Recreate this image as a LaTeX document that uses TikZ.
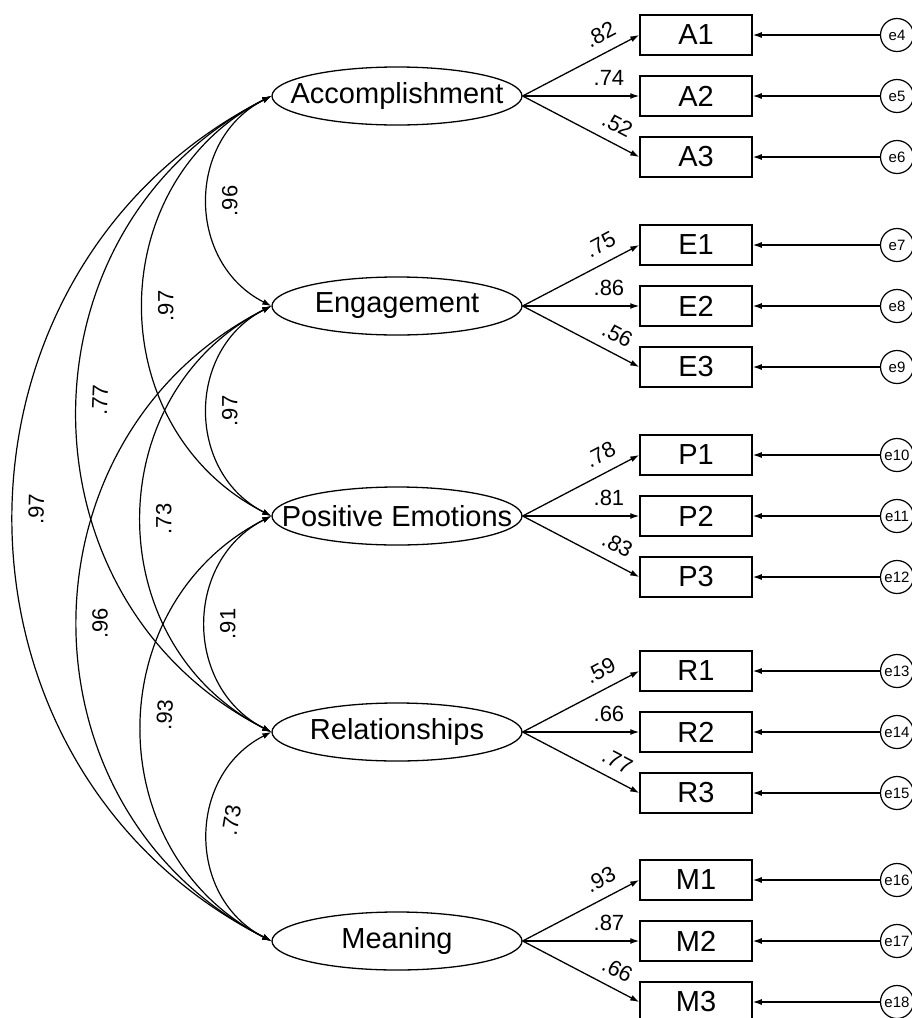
\documentclass[tikz,border=0pt]{standalone}
\usepackage{fontspec}
\setmainfont{Liberation Sans}
\usetikzlibrary{shapes.geometric, arrows.meta}
\NewDocumentCommand{\latname}{m}{%
\makebox[0pt]{#1}%
}

\begin{document}
\begin{tikzpicture}[x=1pt, y=-1pt, latent/.style={draw, ellipse, minimum width=250pt, minimum height=58pt, inner sep=0pt, line width=1.3pt, font=\fontsize{29}{34}\selectfont}, item/.style={rectangle, draw, minimum width=112pt, minimum height=40pt, line width=1.5pt, font=\fontsize{29}{32}\selectfont}, err/.style={draw, circle, minimum size=33pt, inner sep=0pt, line width=1.2pt, font=\fontsize{15}{17}\selectfont}, n/.style={-{Latex[length=9pt, width=6pt]}, line width=1.3pt}, cov/.style={{Latex[length=9pt, width=6pt]}-{Latex[length=9pt, width=6pt]}, line width=1.2pt, bend left=63, looseness=1.17, allow upside down}, lab/.style={font=\fontsize{22}{24}\selectfont, inner sep=2pt}]
        \useasboundingbox (0,0) rectangle (911,1018);
        % latent factors
        \node[latent] (Acc) at (397,96) {\latname{Accomplishment}};
        \node[latent] (Eng) at (397,306) {\latname{Engagement}};
        \node[latent] (Pos) at (397,516) {\latname{Positive Emotions}};
        \node[latent] (Rel) at (397,732) {\latname{Relationships}};
        \node[latent] (Mea) at (397,941) {\latname{Meaning}};
        % items
        \node[item] (A1) at (696,35) {A1};
        \node[item] (A2) at (696,96) {A2};
        \node[item] (A3) at (696,157) {A3};
        \node[item] (E1) at (696,245) {E1};
        \node[item] (E2) at (696,306) {E2};
        \node[item] (E3) at (696,367) {E3};
        \node[item] (P1) at (696,455) {P1};
        \node[item] (P2) at (696,516) {P2};
        \node[item] (P3) at (696,577) {P3};
        \node[item] (R1) at (696,671) {R1};
        \node[item] (R2) at (696,732) {R2};
        \node[item] (R3) at (696,793) {R3};
        \node[item] (M1) at (696,880) {M1};
        \node[item] (M2) at (696,941) {M2};
        \node[item] (M3) at (696,1002) {M3};
        % error terms
        \node[err] (e4) at (897,35) {e4};
        \node[err] (e5) at (897,96) {e5};
        \node[err] (e6) at (897,157) {e6};
        \node[err] (e7) at (897,245) {e7};
        \node[err] (e8) at (897,306) {e8};
        \node[err] (e9) at (897,367) {e9};
        \node[err] (e10) at (897,455) {e10};
        \node[err] (e11) at (897,516) {e11};
        \node[err] (e12) at (897,577) {e12};
        \node[err] (e13) at (897,671) {e13};
        \node[err] (e14) at (897,732) {e14};
        \node[err] (e15) at (897,793) {e15};
        \node[err] (e16) at (897,880) {e16};
        \node[err] (e17) at (897,941) {e17};
        \node[err] (e18) at (897,1002) {e18};
        % loadings
        \draw [n] (Acc.east) -- node[lab, pos=.74, sloped, above=8pt] {.82} (A1.west);
        \draw [n] (Acc.east) -- node[lab, pos=.74, sloped, above=8pt] {.74} (A2.west);
        \draw [n] (Acc.east) -- node[lab, pos=.74, sloped, above=8pt] {.52} (A3.west);
        \draw [n] (Eng.east) -- node[lab, pos=.74, sloped, above=8pt] {.75} (E1.west);
        \draw [n] (Eng.east) -- node[lab, pos=.74, sloped, above=8pt] {.86} (E2.west);
        \draw [n] (Eng.east) -- node[lab, pos=.74, sloped, above=8pt] {.56} (E3.west);
        \draw [n] (Pos.east) -- node[lab, pos=.74, sloped, above=8pt] {.78} (P1.west);
        \draw [n] (Pos.east) -- node[lab, pos=.74, sloped, above=8pt] {.81} (P2.west);
        \draw [n] (Pos.east) -- node[lab, pos=.74, sloped, above=8pt] {.83} (P3.west);
        \draw [n] (Rel.east) -- node[lab, pos=.74, sloped, above=8pt] {.59} (R1.west);
        \draw [n] (Rel.east) -- node[lab, pos=.74, sloped, above=8pt] {.66} (R2.west);
        \draw [n] (Rel.east) -- node[lab, pos=.74, sloped, above=8pt] {.77} (R3.west);
        \draw [n] (Mea.east) -- node[lab, pos=.74, sloped, above=8pt] {.93} (M1.west);
        \draw [n] (Mea.east) -- node[lab, pos=.74, sloped, above=8pt] {.87} (M2.west);
        \draw [n] (Mea.east) -- node[lab, pos=.74, sloped, above=8pt] {.66} (M3.west);
        % errors
        \draw [n] (e4) -- (A1);
        \draw [n] (e5) -- (A2);
        \draw [n] (e6) -- (A3);
        \draw [n] (e7) -- (E1);
        \draw [n] (e8) -- (E2);
        \draw [n] (e9) -- (E3);
        \draw [n] (e10) -- (P1);
        \draw [n] (e11) -- (P2);
        \draw [n] (e12) -- (P3);
        \draw [n] (e13) -- (R1);
        \draw [n] (e14) -- (R2);
        \draw [n] (e15) -- (R3);
        \draw [n] (e16) -- (M1);
        \draw [n] (e17) -- (M2);
        \draw [n] (e18) -- (M3);
        % covariances
        \draw [cov] (Eng.west) to node[lab, pos=.5, sloped, below=12pt] {.96} (Acc.west);
        \draw [cov] (Pos.west) to node[lab, pos=.5, sloped, below=12pt] {.97} (Acc.west);
        \draw [cov] (Rel.west) to node[lab, pos=.52, sloped, below=12pt] {.77} (Acc.west);
        \draw [cov] (Mea.west) to node[lab, pos=.51, sloped, below=12pt] {.97} (Acc.west);
        \draw [cov] (Pos.west) to node[lab, pos=.5, sloped, below=12pt] {.97} (Eng.west);
        \draw [cov] (Rel.west) to node[lab, pos=.5, sloped, below=12pt] {.73} (Eng.west);
        \draw [cov] (Mea.west) to node[lab, pos=.5, sloped, below=12pt] {.96} (Eng.west);
        \draw [cov] (Rel.west) to node[lab, pos=.5, sloped, below=12pt] {.91} (Pos.west);
        \draw [cov] (Mea.west) to node[lab, pos=.53, sloped, below=12pt] {.93} (Pos.west);
        \draw [cov] (Mea.west) to node[lab, pos=.58, sloped, below=12pt] {.73} (Rel.west);
    \end{tikzpicture}
\end{document}
